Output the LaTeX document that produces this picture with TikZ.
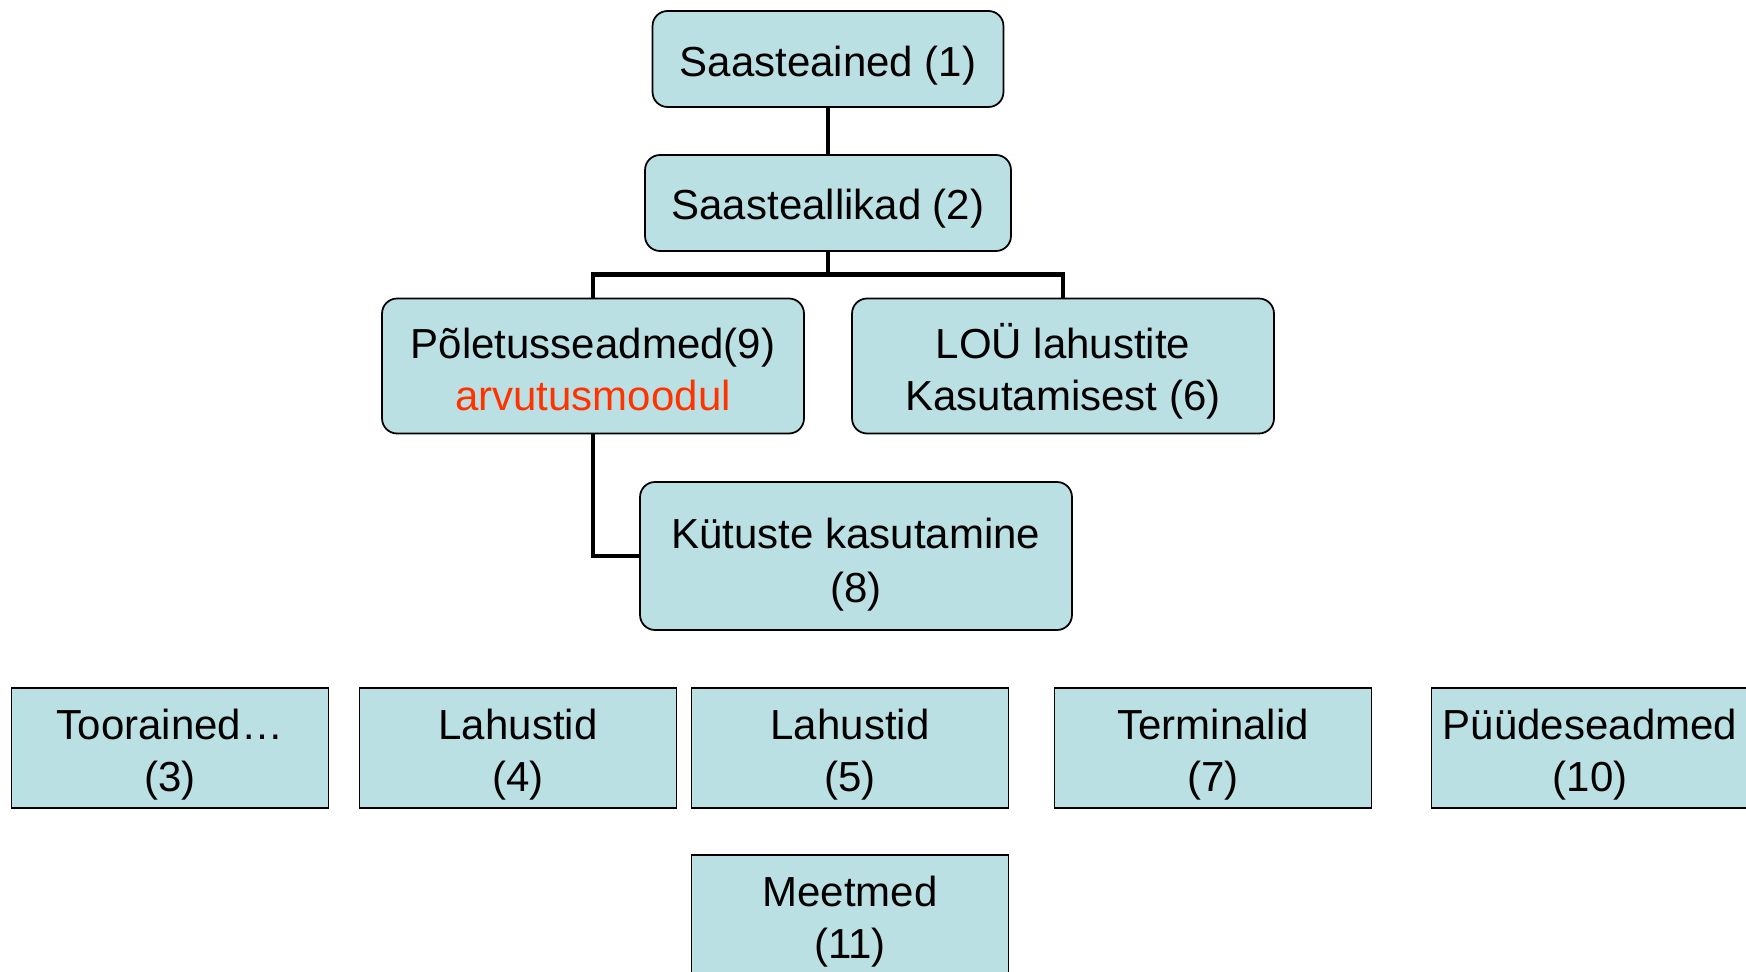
\documentclass[tikz,border=0pt]{standalone}
\usepackage{fontspec}
\setmainfont{Liberation Sans}
\usepackage{xcolor}
\usetikzlibrary{calc}
\definecolor{boxfill}{RGB}{187,224,227}
\definecolor{modulered}{RGB}{255,51,0}
\newcommand{\liftline}[1]{\rule{0pt}{#1}}

\begin{document}
\begin{tikzpicture}[x=0.02cm, y=-0.02cm,
    box/.style={draw=black, line width=1pt, fill=boxfill, align=center, inner sep=0pt,
        font=\fontsize{23.9}{29.6}\selectfont},
    rbox/.style={box, rounded corners=0.3cm},
    flatbox/.style={box, minimum width=6.34cm, minimum height=2.4cm},
    link/.style={line width=2.8pt}]
    \useasboundingbox (0,0) rectangle (1746,972);
    \clip (0,0) rectangle (1746,972);

    \node[rbox, minimum width=7.02cm, minimum height=1.92cm] (aine1) at (828,59)
        {\liftline{25pt}Saasteained (1)};
    \node[rbox, minimum width=7.32cm, minimum height=1.92cm] (allikas2) at (828,203)
        {\liftline{23.9pt}Saasteallikad (2)};
    \node[rbox, minimum width=8.44cm, minimum height=2.7cm] (poletus9) at (593,366)
        {\liftline{21.3pt}Põletusseadmed(9)\\\textcolor{modulered}{arvutusmoodul}};
    \node[rbox, minimum width=8.44cm, minimum height=2.7cm] (lahusti6) at (1063,366)
        {\liftline{26.5pt}LOÜ lahustite\\Kasutamisest (6)};
    \node[rbox, minimum width=8.64cm, minimum height=2.96cm,
        font=\fontsize{23.9}{30.8}\selectfont] (kytus8) at (856,556)
        {\liftline{27.1pt}Kütuste kasutamine\\(8)};

    \node[flatbox] (toore3) at (170,748) {\liftline{25.3pt}Toorained…\\(3)};
    \node[flatbox] (lahus4) at (518,748) {\liftline{25.3pt}Lahustid\\(4)};
    \node[flatbox] (lahus5) at (850,748) {\liftline{25.3pt}Lahustid\\(5)};
    \node[flatbox] (term7) at (1213,748) {\liftline{25.3pt}Terminalid\\(7)};
    \node[flatbox] (pyyde10) at (1590,748) {\liftline{25.3pt}Püüdeseadmed\\(10)};
    \node[flatbox] (meede11) at (850,915) {\liftline{25.3pt}Meetmed\\(11)};

    \coordinate (fork) at ($(allikas2.south)!0.5!(allikas2.south|-poletus9.north)$);
    \draw[link] (aine1.south) -- (allikas2.north);
    \draw[link] (allikas2.south) -- (fork) -| (poletus9.north);
    \draw[link] (fork) -| (lahusti6.north);
    \draw[link] (poletus9.south) |- (kytus8.west);
\end{tikzpicture}
\end{document}
